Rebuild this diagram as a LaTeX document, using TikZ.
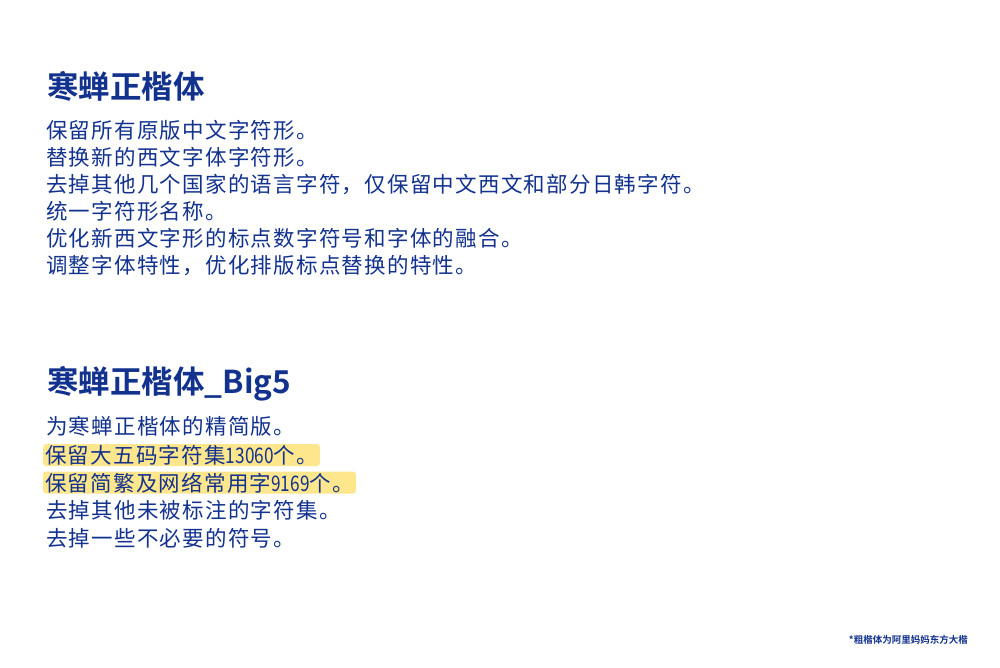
\documentclass[tikz,border=0pt]{standalone}
\usepackage{fontspec}
\setmainfont{Noto Sans CJK SC}[BoldFont={Noto Sans CJK SC Bold}]
\newfontfamily\bodyfont{Noto Sans CJK SC}[LetterSpace=5.8]
\newfontfamily\numfont{Noto Sans CJK SC}[FakeStretch=0.8]
\usetikzlibrary{positioning}
\definecolor{inkblue}{RGB}{18,50,142}
\definecolor{markyellow}{RGB}{254,230,140}
\tikzstyle{headline} = [anchor=west, inner sep=0pt, text=inkblue,
    font=\fontsize{31.5}{32}\selectfont\bfseries]
\tikzstyle{bodytext} = [anchor=west, inner sep=0pt, text=inkblue,
    text height=17pt, text depth=2pt, font=\fontsize{21.5}{22}\selectfont\bodyfont]
\tikzstyle{marked} = [bodytext, fill=markyellow, rounded corners=3pt, inner xsep=2pt,
    text height=19.5pt, text depth=2.5pt]
\tikzstyle{footnote} = [anchor=east, inner sep=0pt, text=inkblue,
    font=\fontsize{9.5}{10}\selectfont\bfseries]
\begin{document}
\begin{tikzpicture}[x=1pt, y=-1pt]

% Page
\path[fill=white] (0,0) rectangle (1000,667);

% First block
\node[headline] (title1) at (47, 86) {寒蝉正楷体};
\node[bodytext] (keep1) at (46, 131) {保留所有原版中文字符形。};
\node[bodytext] (swap1) at (46, 158) {替换新的西文字体字符形。};
\node[bodytext] (drop1) at (46, 185) {去掉其他几个国家的语言字符，仅保留中文西文和部分日韩字符。};
\node[bodytext] (name1) at (46, 212) {统一字符形名称。};
\node[bodytext] (opt1) at (46, 239) {优化新西文字形的标点数字符号和字体的融合。};
\node[bodytext] (feat1) at (46, 266) {调整字体特性，优化排版标点替换的特性。};

% Second block
\node[headline] (title2) at (47, 384) {寒蝉正楷体\_Big5};
\node[bodytext] (lite2) at (46, 427) {为寒蝉正楷体的精简版。};
\node[marked] (big5) at (43, 455) {保留大五码字符集{\numfont 13060}个。};
\node[marked] (common2) at (43, 482.5) {保留简繁及网络常用字{\numfont 9169}个。};
\node[bodytext] (drop2) at (46, 511) {去掉其他未被标注的字符集。};
\node[bodytext] (sym2) at (46, 539) {去掉一些不必要的符号。};

% Footnote
\node[footnote] (note) at (968, 640) {*粗楷体为阿里妈妈东方大楷};

\end{tikzpicture}
\end{document}
